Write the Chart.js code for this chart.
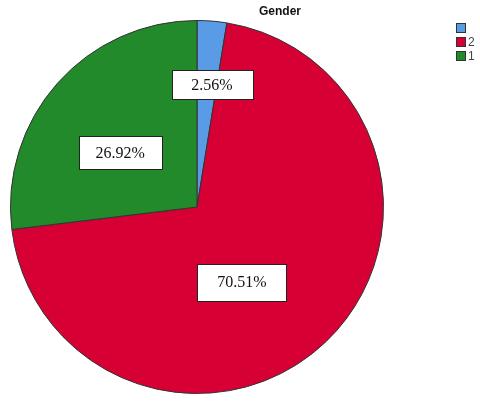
<!DOCTYPE html>
<html lang="en">
<head>
  <meta charset="UTF-8" />
  <title>Gender</title>
  <script src="https://cdn.jsdelivr.net/npm/chart.js"></script>
  <style>
    html, body { margin: 0; padding: 0; background: white; }
    #wrap { width: 480px; height: 401px; position: relative; }
  </style>
</head>
<body>
  <div id="wrap"><canvas id="genderChart"></canvas></div>

  <script>
    const categories = ['', '2', '1'];
    const percents = [2.56, 70.51, 26.92];
    const colors = ['#5a9be6', '#d70034', '#238a2b'];

    // label box placement: angle shift (deg) from slice middle, radius fraction, box size
    const labelPlace = [
      { shift: 2.4, r: 0.66, w: 81, h: 29 },
      { shift: 13, r: 0.47, w: 89, h: 37 },
      { shift: -6.3, r: 0.505, w: 83, h: 33 }
    ];

    const extras = {
      id: 'extras',
      afterDatasetsDraw(chart) {
        const c = chart.ctx;
        const meta = chart.getDatasetMeta(0);
        c.save();
        c.font = '16px "Liberation Serif", "DejaVu Serif", serif';
        c.textAlign = 'center';
        c.textBaseline = 'middle';
        meta.data.forEach((arc, i) => {
          const p = arc.getProps(['x', 'y', 'startAngle', 'endAngle', 'outerRadius'], true);
          const lp = labelPlace[i];
          const mid = (p.startAngle + p.endAngle) / 2 + lp.shift * Math.PI / 180;
          const rr = p.outerRadius * lp.r;
          const x = p.x + Math.cos(mid) * rr;
          const y = p.y + Math.sin(mid) * rr;
          const txt = percents[i].toFixed(2) + '%';
          const bx = Math.round(x - lp.w / 2) + 0.5;
          const by = Math.round(y - lp.h / 2) + 0.5;
          c.fillStyle = '#ffffff';
          c.fillRect(bx, by, lp.w, lp.h);
          c.strokeStyle = '#222';
          c.lineWidth = 1;
          c.strokeRect(bx, by, lp.w, lp.h);
          c.fillStyle = '#111';
          c.fillText(txt, x, y + 1);
        });

        // title
        c.font = 'bold 12px "Liberation Sans", Arial, sans-serif';
        c.fillStyle = '#111';
        c.textAlign = 'center';
        c.textBaseline = 'alphabetic';
        c.fillText('Gender', 280, 15);

        // legend
        c.font = '12px "Liberation Sans", Arial, sans-serif';
        c.textAlign = 'left';
        c.textBaseline = 'middle';
        categories.forEach((lab, i) => {
          const y = 23 + i * 14;
          c.fillStyle = colors[i];
          c.fillRect(456.5, y + 0.5, 9, 9);
          c.strokeStyle = '#333';
          c.strokeRect(456.5, y + 0.5, 9, 9);
          c.fillStyle = '#444';
          c.fillText(lab, 468, y + 5.5);
        });
        c.restore();
      }
    };

    new Chart(document.getElementById('genderChart'), {
      type: 'pie',
      data: {
        labels: categories,
        datasets: [{
          data: percents,
          backgroundColor: colors,
          borderColor: '#333',
          borderWidth: 1
        }]
      },
      options: {
        responsive: true,
        maintainAspectRatio: false,
        animation: false,
        layout: { padding: { left: 10, right: 96, top: 20, bottom: 7 } },
        plugins: {
          legend: { display: false },
          tooltip: { enabled: false },
          title: { display: false }
        }
      },
      plugins: [extras]
    });
  </script>
</body>
</html>
